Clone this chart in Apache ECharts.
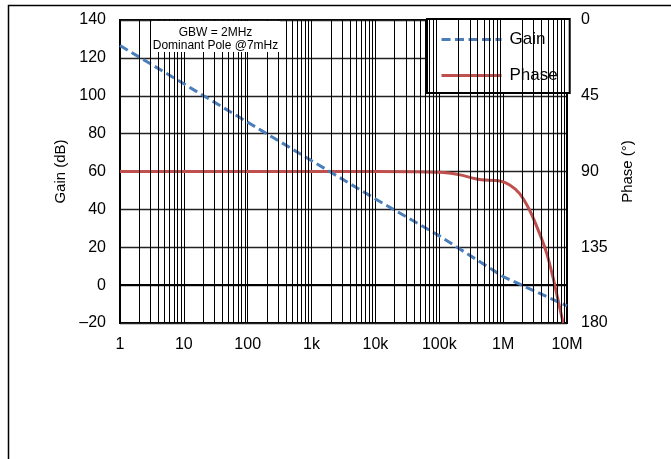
<!DOCTYPE html>
<html>
<head>
<meta charset="utf-8">
<script src="https://cdn.jsdelivr.net/npm/echarts@6/dist/echarts.min.js"></script>
<style>
html,body{margin:0;padding:0;background:#fff;}
#c{width:671px;height:459px;}
</style>
</head>
<body>
<div id="c"></div>
<script>
// ---- data ----
var gainFreq = [1, 10, 100, 1e3, 1e4, 1e5, 1e6, 1e7];
var gainDb   = [126.5, 106.3, 86, 65.7, 45.5, 26, 4.5, -11];

var phaseFreq = [1, 10, 100, 1e3, 1e4, 1e5, 2.1e5, 4.3e5, 8.9e5, 1.27e6, 1.8e6, 2.6e6, 3.7e6, 4.8e6, 6e6, 7.2e6, 8.7e6];
var phaseDeg  = [90, 90, 90, 90, 90, 90.5, 92, 94.8, 95.6, 98, 103, 113, 126.6, 138.5, 152.5, 166, 180];

var xTickValues = [1, 10, 100, 1e3, 1e4, 1e5, 1e6, 1e7];
var xTickLabels = ['1', '10', '100', '1k', '10k', '100k', '1M', '10M'];
var minorMultipliers = [2, 3, 4, 5, 6, 7, 8, 9];

var annotationLines = ['GBW = 2MHz', 'Dominant Pole @7mHz'];

// ---- build ----
function pairs(xs, ys){ return xs.map(function(x,i){ return [x, ys[i]]; }); }
var minorLines = [];
for (var d = 0; d < xTickValues.length - 1; d++) {
  minorMultipliers.forEach(function(m){ minorLines.push({xAxis: xTickValues[d] * m}); });
}

var FONT = 'Liberation Sans, Arial, sans-serif';
var chart = echarts.init(document.getElementById('c'));
chart.setOption({
  animation: false,
  backgroundColor: '#fff',
  grid: {left: 120, top: 20, right: 104, bottom: 136, show: true, borderColor: '#000', borderWidth: 2},
  legend: {
    orient: 'vertical', left: 427, top: 19,
    backgroundColor: '#fff', borderColor: '#000', borderWidth: 2,
    padding: [12, 12, 9, 13],
    itemWidth: 60, itemHeight: 14, itemGap: 19,
    itemStyle: {opacity: 0},
    lineStyle: {width: 3},
    textStyle: {fontFamily: FONT, fontSize: 17, color: '#000', padding: [0, 0, 0, 3]},
    data: ['Gain', 'Phase']
  },
  xAxis: {
    type: 'log', logBase: 10, min: 1, max: 1e7,
    axisLine: {show: true, lineStyle: {color: '#000', width: 2}},
    axisTick: {show: false},
    axisLabel: {
      fontFamily: FONT, fontSize: 16, color: '#000', margin: 14,
      formatter: function(v){ var i = xTickValues.indexOf(v); return i >= 0 ? xTickLabels[i] : ''; }
    },
    splitLine: {show: true, lineStyle: {color: '#000', width: 1}}
  },
  yAxis: [{
    type: 'value', min: -20, max: 140, interval: 20,
    name: 'Gain (dB)', nameLocation: 'middle', nameGap: 49, nameRotate: 90,
    nameTextStyle: {fontFamily: FONT, fontSize: 15, color: '#000'},
    axisLine: {show: true, lineStyle: {color: '#000', width: 2}},
    axisTick: {show: false},
    axisLabel: {fontFamily: FONT, fontSize: 16, color: '#000', margin: 14,
      formatter: function(v){ return v < 0 ? '\u2013' + Math.abs(v) : String(v); }},
    splitLine: {show: true, lineStyle: {color: '#222', width: 1.3}}
  }, {
    type: 'value', min: 0, max: 180, interval: 45, inverse: true,
    name: 'Phase (\u00b0)', nameLocation: 'middle', nameGap: 53, nameRotate: 90,
    nameTextStyle: {fontFamily: FONT, fontSize: 15, color: '#000'},
    axisLine: {show: true, lineStyle: {color: '#000', width: 2}},
    axisTick: {show: false},
    axisLabel: {fontFamily: FONT, fontSize: 16, color: '#000', margin: 14},
    splitLine: {show: false}
  }],
  series: [{
    name: 'Gain', type: 'line', yAxisIndex: 0, symbol: 'none', z: 4,
    data: pairs(gainFreq, gainDb),
    lineStyle: {color: '#4a7ebb', width: 3, type: [9, 4.5]},
    itemStyle: {color: '#4a7ebb'},
    markLine: {
      silent: true, symbol: 'none', label: {show: false}, animation: false,
      lineStyle: {color: '#000', width: 1, type: 'solid'},
      data: minorLines
    }
  }, {
    name: 'Phase', type: 'line', yAxisIndex: 1, symbol: 'none', smooth: 0.3, z: 3,
    data: pairs(phaseFreq, phaseDeg),
    lineStyle: {color: '#c0504d', width: 3},
    itemStyle: {color: '#c0504d'}
  }],
  graphic: [{
    type: 'rect', left: 6, top: 3, z: 100,
    shape: {width: 720, height: 520},
    style: {fill: 'none', stroke: '#000', lineWidth: 1.5}
  }, {
    type: 'rect', z: 10, shape: {x: 152, y: 21, width: 128, height: 31},
    style: {fill: '#fff'}
  }, {
    type: 'text', z: 11, x: 215.5, y: 32.5,
    style: {text: annotationLines[0], fontFamily: FONT, fontSize: 12, fill: '#000', align: 'center', verticalAlign: 'middle'}
  }, {
    type: 'text', z: 11, x: 215.5, y: 46,
    style: {text: annotationLines[1], fontFamily: FONT, fontSize: 12, fill: '#000', align: 'center', verticalAlign: 'middle'}
  }]
});
</script>
</body>
</html>
